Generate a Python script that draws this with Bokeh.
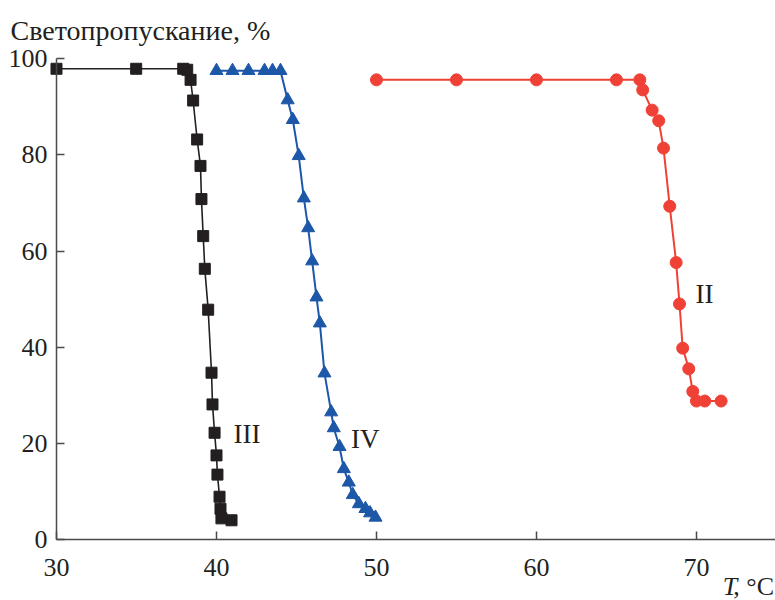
from bokeh.plotting import figure
from bokeh.models import Label, Range1d, FixedTicker, LinearAxis
from bokeh.embed import file_html
from bokeh.resources import INLINE

# Series III (black squares)
t_III = [30, 34.98, 37.92, 38.17, 38.38, 38.54, 38.79, 39.0, 39.06, 39.17, 39.27,
         39.48, 39.69, 39.75, 39.88, 40.0, 40.06, 40.19, 40.25, 40.31, 40.94]
v_III = [97.9, 97.9, 97.9, 97.7, 95.6, 91.3, 83.2, 77.7, 70.8, 63.1, 56.3,
         47.8, 34.7, 28.1, 22.2, 17.5, 13.5, 8.9, 6.4, 4.4, 4.0]

# Series IV (blue triangles)
t_IV = [40, 41, 42, 43, 43.5, 44, 44.45, 44.77, 45.14, 45.46, 45.73, 45.98, 46.25,
        46.46, 46.75, 47.17, 47.33, 47.69, 47.96, 48.27, 48.52, 48.9, 49.31, 49.6, 49.94]
v_IV = [97.5, 97.5, 97.5, 97.5, 97.5, 97.5, 91.4, 87.3, 79.8, 71.0, 64.8, 57.9, 50.4,
        45.0, 34.6, 26.5, 23.2, 19.3, 14.7, 11.9, 9.3, 7.4, 6.4, 5.5, 4.6]

# Series II (red circles)
t_II = [50, 55, 60, 65, 66.46, 66.64, 67.23, 67.64, 67.94, 68.33, 68.73, 68.94,
        69.14, 69.52, 69.77, 70.0, 70.52, 71.54]
v_II = [95.6, 95.6, 95.6, 95.6, 95.6, 93.5, 89.3, 87.1, 81.4, 69.3, 57.6, 49.0,
        39.8, 35.5, 30.8, 28.8, 28.8, 28.8]

x_ticks = [30, 40, 50, 60, 70]
y_ticks = [0, 20, 40, 60, 80, 100]

FONT = "Liberation Serif"
AXIS_COLOR = "#4a4a4a"
TEXT_COLOR = "#231f20"

p = figure(width=775, height=600, output_backend="svg", toolbar_location=None,
           x_range=Range1d(26.5, 74.94), y_range=Range1d(-12.68, 112.1),
           x_axis_location=None, y_axis_location=None, min_border=0)
p.outline_line_color = None
p.grid.visible = False

xaxis = LinearAxis(fixed_location=0, bounds=(30, 74.94), ticker=FixedTicker(ticks=x_ticks))
yaxis = LinearAxis(fixed_location=30, bounds=(0, 100), ticker=FixedTicker(ticks=y_ticks))
for ax in (xaxis, yaxis):
    ax.axis_line_color = AXIS_COLOR
    ax.axis_line_width = 1.5
    ax.major_tick_line_color = AXIS_COLOR
    ax.major_tick_line_width = 1.5
    ax.major_tick_in = 8
    ax.major_tick_out = 0
    ax.minor_tick_line_color = None
    ax.major_label_text_font = FONT
    ax.major_label_text_font_size = "26px"
    ax.major_label_text_color = TEXT_COLOR
xaxis.major_label_standoff = 19
yaxis.major_label_standoff = 9
p.add_layout(xaxis, "below")
p.add_layout(yaxis, "left")

p.line(t_III, v_III, line_color="#231f20", line_width=1.6)
p.scatter(t_III, v_III, marker="square", size=11, fill_color="#231f20", line_color="#231f20")

p.line(t_IV, v_IV, line_color="#1c57a8", line_width=2)
p.scatter(t_IV, v_IV, marker="triangle", size=13, fill_color="#1c57a8", line_color="#1c57a8")

p.line(t_II, v_II, line_color="#ef4136", line_width=2)
p.scatter(t_II, v_II, marker="circle", size=12, fill_color="#ef4136", line_color="#ef4136")

def lab(x, y, text, size="26px", align="center", baseline="middle", style="normal"):
    p.add_layout(Label(x=x, y=y, text=text, text_font=FONT, text_font_size=size,
                       text_color=TEXT_COLOR, text_align=align, text_baseline=baseline,
                       text_font_style=style))

lab(41.9, 22.0, "III", size="27px")
lab(49.3, 21.0, "IV", size="27px")
lab(70.5, 51.1, "II", size="27px")
lab(27.125, 105.8, "Светопропускание, %", size="28px", align="left")
lab(74.85, -9.8, ", °C", align="right")
lab(72.55, -9.8, "T", align="right", style="italic")

open("out.html", "w").write(file_html(p, INLINE))
